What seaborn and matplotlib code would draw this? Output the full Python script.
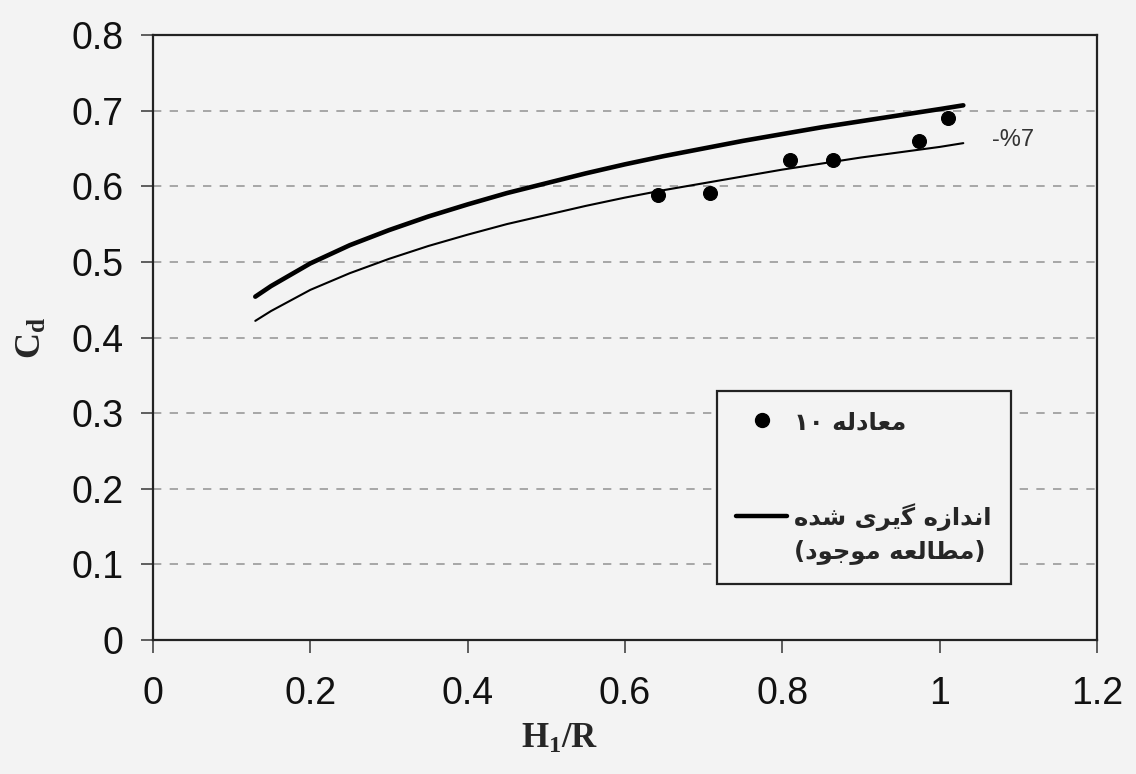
import matplotlib
matplotlib.use("Agg")
import matplotlib.pyplot as plt
from matplotlib.lines import Line2D
import pandas as pd
import seaborn as sns

h_r = [0.13, 0.15, 0.2, 0.25, 0.3, 0.35, 0.4, 0.45, 0.5, 0.55,
       0.6, 0.65, 0.7, 0.75, 0.8, 0.85, 0.9, 0.95, 1.0, 1.03]
cd_measured = [0.454, 0.468, 0.498, 0.522, 0.542, 0.560, 0.576, 0.591, 0.604, 0.617,
               0.629, 0.640, 0.650, 0.660, 0.669, 0.678, 0.686, 0.694, 0.702, 0.707]
cd_minus7 = [0.422, 0.435, 0.463, 0.485, 0.504, 0.521, 0.536, 0.550, 0.562, 0.574,
             0.585, 0.595, 0.604, 0.613, 0.622, 0.630, 0.638, 0.645, 0.652, 0.657]

# equation 10 points
eq10_h_r = [0.642, 0.708, 0.810, 0.864, 0.974, 1.011]
eq10_cd = [0.588, 0.591, 0.635, 0.635, 0.660, 0.690]

x_ticks = [0, 0.2, 0.4, 0.6, 0.8, 1.0, 1.2]
y_ticks = [0, 0.1, 0.2, 0.3, 0.4, 0.5, 0.6, 0.7, 0.8]

# persian labels, already shaped (presentation forms) and put in visual order
lbl_eq10 = "\u06F1\u06F0 \uFEEA\uFEDF\uFEA9\uFE8E\uFECC\uFEE3"             # معادله ۱۰
lbl_meas = "\uFEE9\uFEAA\uFEB7 \uFBFC\uFEAE\uFBFE\uFB94 \uFEE9\uFEAF\uFE8D\uFEAA\uFEE7\uFE8D"  # اندازه گیری شده
lbl_study = "(\uFEA9\uFEEE\uFE9F\uFEEE\uFEE3 \uFEEA\uFECC\uFEDF\uFE8E\uFEC4\uFEE3)"  # (مطالعه موجود)
band_label = "-%7"

bg = "#f3f3f3"
sns.set_style("ticks")
plt.rcParams["font.family"] = ["Liberation Sans", "DejaVu Sans"]
plt.rcParams["mathtext.fontset"] = "custom"
plt.rcParams["mathtext.rm"] = "Liberation Serif:bold"
plt.rcParams["mathtext.it"] = "Liberation Serif:bold"
plt.rcParams["mathtext.bf"] = "Liberation Serif:bold"

fig = plt.figure(figsize=(11.36, 7.74), dpi=100, facecolor=bg)
ax = fig.add_axes([0.1347, 0.1731, 0.8310, 0.7817])
ax.set_facecolor(bg)

curves = pd.DataFrame({"h": h_r, "meas": cd_measured, "m7": cd_minus7})
pts = pd.DataFrame({"h": eq10_h_r, "cd": eq10_cd})

sns.lineplot(data=curves, x="h", y="meas", ax=ax, color="black", lw=3.3, zorder=3)
sns.lineplot(data=curves, x="h", y="m7", ax=ax, color="black", lw=1.5, zorder=3)
sns.scatterplot(data=pts, x="h", y="cd", ax=ax, color="black", s=100, edgecolor="black", zorder=4)

ax.set_xlim(0, 1.2)
ax.set_ylim(0, 0.8)
ax.set_xticks(x_ticks)
ax.set_yticks(y_ticks)
ax.set_xticklabels(["{:g}".format(v) for v in x_ticks])
ax.set_yticklabels(["{:g}".format(v) for v in y_ticks])
ax.tick_params(axis="both", labelsize=27, length=9, width=1.2, color="#444444",
               direction="out", labelcolor="#111111")
ax.tick_params(axis="x", pad=17)
ax.tick_params(axis="y", pad=12)

for v in y_ticks[1:-1]:
    ax.axhline(v, color="#9a9a9a", lw=1.2, ls=(0, (5, 5)), zorder=1)

for s in ax.spines.values():
    s.set_linewidth(1.6)
    s.set_color("#222222")

ax.set_xlabel(r"$\mathrm{H_1/R}$", fontsize=25)
ax.set_ylabel(r"$\mathrm{C_d}$", fontsize=26)
ax.xaxis.set_label_coords(0.431, -0.136)
ax.yaxis.set_label_coords(-0.11, 0.5)

ax.text(1.066, 0.661, band_label, fontsize=17, color="#333333", va="center", ha="left")

# the blank row (" ") only opens the gap between the two entries, as in the scan
handles = [
    Line2D([], [], ls="none", marker="o", color="black", markersize=10),
    Line2D([], [], ls="none"),
    Line2D([], [], color="black", lw=3.2),
    Line2D([], [], ls="none"),
]
labels = [lbl_eq10, " ", lbl_meas, lbl_study]
leg = ax.legend(handles, labels, loc="lower left", bbox_to_anchor=(0.597, 0.093),
                borderaxespad=0, frameon=True, fancybox=False, edgecolor="#222222",
                facecolor=bg, framealpha=1, handlelength=2.1, handletextpad=0.3,
                labelspacing=0.35, borderpad=0.8,
                prop={"family": ["DejaVu Sans"], "weight": "bold", "size": 17.5})
leg.get_frame().set_linewidth(1.6)
leg.get_texts()[1].set_fontsize(39)

fig.savefig("out.png", dpi=100, facecolor=bg)
